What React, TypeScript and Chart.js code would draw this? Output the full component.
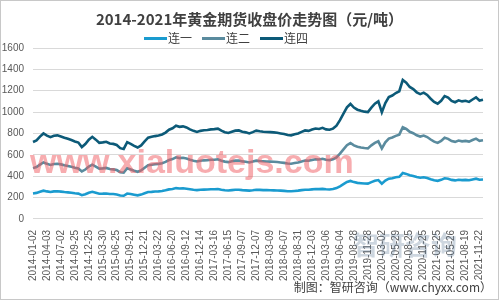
import React, { useEffect, useRef } from "react";
import { Chart, registerables } from "chart.js";

Chart.register(...registerables);

const tickLabels: string[] = [
  "2014-01-02", "2014-04-03", "2014-07-02", "2014-09-25", "2014-12-25",
  "2015-03-30", "2015-06-25", "2015-09-21", "2015-12-21", "2016-03-22",
  "2016-06-20", "2016-09-12", "2016-12-14", "2017-03-16", "2017-06-15",
  "2017-09-07", "2017-12-07", "2018-03-09", "2018-06-07", "2018-08-31",
  "2018-12-03", "2019-03-06", "2019-06-04", "2019-08-28", "2019-11-28",
  "2020-03-02", "2020-05-29", "2020-08-25", "2020-11-25", "2021-02-25",
  "2021-05-26", "2021-08-19", "2021-11-22",
];

const seriesNames: string[] = ["连一", "连二", "连四"];
const seriesColors: string[] = ["#1a9bcf", "#5a8b9e", "#0c5a78"];

const lian1: number[] = [
  238, 243, 254, 264, 257, 252, 257, 258, 255, 251,
  248, 244, 239, 236, 222, 231, 245, 253, 245, 235,
  236, 238, 233, 232, 228, 218, 216, 237, 232, 226,
  220, 227, 239, 251, 253, 256, 257, 261, 267, 276,
  280, 288, 284, 286, 282, 277, 272, 269, 272, 274,
  275, 277, 277, 279, 273, 268, 265, 269, 273, 273,
  269, 267, 264, 268, 273, 271, 269, 269, 268, 267,
  266, 264, 262, 259, 258, 261, 264, 269, 273, 272,
  276, 279, 278, 281, 277, 275, 279, 288, 305, 325,
  345, 355, 344, 337, 334, 331, 330, 344, 356, 363,
  329, 358, 376, 381, 389, 394, 429, 421, 408, 401,
  391, 385, 390, 383, 371, 361, 356, 365, 380, 375,
  365, 360, 366, 363, 365, 361, 369, 376, 366, 368,
];

const lian2: number[] = [
  475, 485, 508, 528, 515, 505, 513, 516, 510, 502,
  495, 487, 479, 472, 444, 462, 490, 507, 490, 470,
  473, 477, 466, 463, 457, 437, 432, 474, 463, 451,
  441, 454, 479, 502, 507, 512, 515, 521, 533, 551,
  560, 576, 569, 572, 565, 553, 544, 537, 544, 548,
  549, 553, 554, 558, 545, 536, 531, 539, 545, 546,
  538, 535, 528, 536, 545, 541, 539, 537, 536, 535,
  532, 528, 524, 519, 516, 523, 528, 538, 546, 544,
  552, 558, 556, 562, 553, 550, 558, 576, 611, 650,
  690, 710, 688, 675, 668, 663, 660, 688, 711, 726,
  659, 716, 752, 762, 777, 789, 858, 842, 815, 802,
  782, 771, 780, 766, 743, 723, 711, 729, 759, 749,
  729, 721, 733, 726, 730, 723, 738, 751, 731, 736,
];

const lian4: number[] = [
  720, 735, 770, 800, 780, 765, 778, 782, 772, 760,
  750, 738, 725, 715, 672, 700, 742, 768, 742, 712,
  716, 722, 706, 702, 692, 662, 655, 718, 702, 684,
  668, 688, 725, 760, 768, 775, 780, 790, 808, 835,
  848, 872, 862, 866, 856, 838, 824, 814, 824, 830,
  832, 838, 840, 845, 826, 812, 804, 816, 826, 828,
  815, 810, 800, 812, 826, 820, 816, 814, 812, 810,
  806, 800, 794, 786, 782, 792, 800, 815, 828, 824,
  836, 846, 842, 852, 838, 834, 845, 872, 925, 985,
  1045, 1076, 1042, 1022, 1012, 1004, 1000, 1042, 1078, 1100,
  998, 1085, 1140, 1155, 1178, 1195, 1300, 1275, 1235, 1215,
  1185, 1168, 1182, 1160, 1125, 1095, 1078, 1105, 1150, 1135,
  1105, 1092, 1110, 1100, 1106, 1095, 1118, 1138, 1108, 1115,
];

const yTicks: number[] = [0, 200, 400, 600, 800, 1000, 1200, 1400, 1600];
const POINTS_PER_TICK = 4;

export default function App() {
  const ref = useRef<HTMLCanvasElement | null>(null);

  useEffect(() => {
    document.body.style.margin = "0";
    if (!ref.current) return;
    const labels = lian4.map((_, i) =>
      i % POINTS_PER_TICK === 0 ? tickLabels[i / POINTS_PER_TICK] ?? "" : ""
    );
    const chart = new Chart(ref.current, {
      type: "line",
      data: {
        labels,
        datasets: [lian1, lian2, lian4].map((d, k) => ({
          label: seriesNames[k],
          data: d,
          borderColor: seriesColors[k],
          backgroundColor: seriesColors[k],
          borderWidth: 2.6,
          pointRadius: 0,
          tension: 0,
          fill: false,
        })),
      },
      options: {
        animation: false,
        responsive: false,
        maintainAspectRatio: false,
        layout: { padding: { top: 47, right: 10, bottom: 15, left: 0 } },
        plugins: {
          legend: { display: false },
          title: { display: false },
          tooltip: { enabled: false },
        },
        scales: {
          x: {
            offset: false,
            grid: { display: false },
            border: { display: false },
            ticks: {
              autoSkip: false,
              minRotation: 90,
              maxRotation: 90,
              padding: 3,
              color: "#595959",
              font: { family: "Liberation Sans", size: 10 },
            },
          },
          y: {
            min: yTicks[0],
            max: yTicks[yTicks.length - 1],
            afterBuildTicks: (axis: any) => {
              axis.ticks = yTicks.map((v) => ({ value: v }));
            },
            afterFit: (axis: any) => {
              axis.width = 32;
            },
            grid: { color: "#d9d9d9", drawTicks: false, lineWidth: 1 },
            border: { display: false },
            ticks: {
              padding: 9,
              color: "#595959",
              font: { family: "Liberation Sans", size: 10 },
              callback: (v: any) => String(v),
            },
          },
        },
      },
    });
    return () => chart.destroy();
  }, []);

  return (
    <div
      style={{
        position: "relative",
        width: 499,
        height: 300,
        boxSizing: "border-box",
        border: "1px solid #c8c8c8",
        background: "#fff",
        overflow: "hidden",
      }}
    >
      <canvas
        ref={ref}
        width={497}
        height={298}
        style={{ position: "absolute", left: 0, top: 0 }}
      />
      <div
        style={{
          position: "absolute",
          left: 0,
          width: 497,
          top: 8,
          textAlign: "center",
          fontFamily: "'Noto Sans CJK SC'",
          fontWeight: "bold",
          fontSize: 15,
          color: "#404040",
          lineHeight: "20px",
        }}
      >
        2014-2021年黄金期货收盘价走势图（元/吨）
      </div>
      <div
        style={{
          position: "absolute",
          left: 143,
          top: 29,
          display: "flex",
          alignItems: "center",
          fontFamily: "'Noto Sans CJK SC'",
          fontSize: 12,
          color: "#404040",
          lineHeight: "16px",
        }}
      >
        {seriesNames.map((n, k) => (
          <div key={n} style={{ display: "flex", alignItems: "center", marginRight: 10 }}>
            <span
              style={{
                display: "inline-block",
                width: 23,
                height: 3,
                background: seriesColors[k],
                marginRight: 1,
              }}
            />
            <span>{n}</span>
          </div>
        ))}
      </div>
      <div
        style={{
          position: "absolute",
          left: 29,
          top: 141,
          fontFamily: "'Liberation Sans'",
          fontWeight: "bold",
          fontSize: 34,
          color: "rgba(240, 90, 95, 0.5)",
          whiteSpace: "nowrap",
          pointerEvents: "none",
        }}
      >
        www.xialuotejs.com
      </div>
      <div
        style={{
          position: "absolute",
          left: 352,
          top: 228,
          fontFamily: "'Noto Sans CJK SC'",
          fontWeight: "bold",
          fontSize: 26,
          color: "rgba(90, 120, 150, 0.3)",
          whiteSpace: "nowrap",
          pointerEvents: "none",
          lineHeight: "30px",
        }}
      >
        智研咨询
      </div>
      <div
        style={{
          position: "absolute",
          right: 6,
          top: 278,
          fontFamily: "'Noto Sans CJK SC'",
          fontSize: 12,
          color: "#404040",
          whiteSpace: "nowrap",
          lineHeight: "16px",
        }}
      >
        制图：智研咨询（www.chyxx.com）
      </div>
    </div>
  );
}
